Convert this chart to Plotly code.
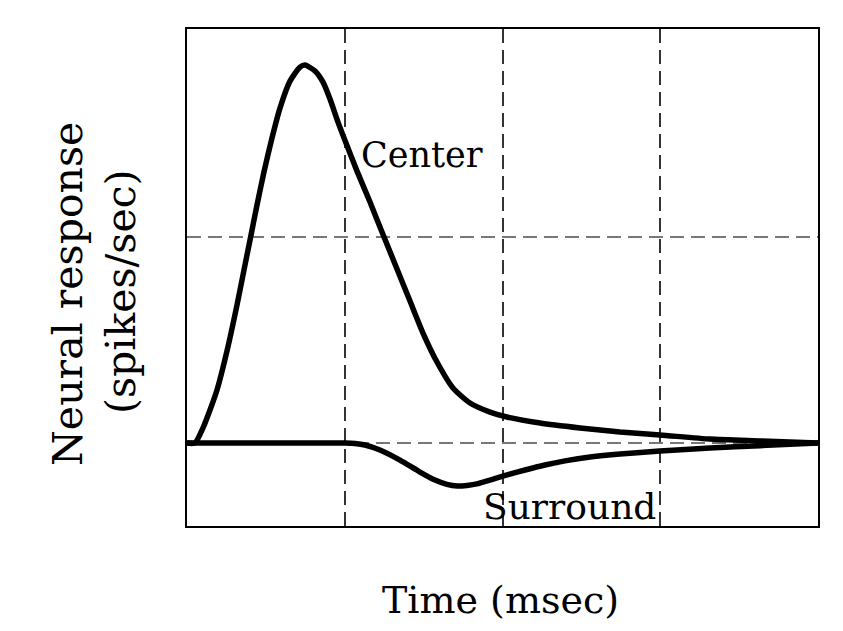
import plotly.graph_objects as go

# Center response (time in arbitrary units 0..4, response in arbitrary units)
center_t = [0.0, 0.0507, 0.1014, 0.1458, 0.1902, 0.2536, 0.3170, 0.3613, 0.3994, 0.4437,
            0.4881, 0.5388, 0.5895, 0.6529, 0.7163, 0.7480, 0.8114, 0.8621, 0.9065, 0.9572,
            1.0079, 1.0777, 1.1601, 1.2361, 1.3312, 1.4136, 1.4960, 1.5848, 1.6862, 1.7940,
            1.9208, 2.0285, 2.2377, 2.4913, 2.7448, 2.9984, 3.3154, 3.6323, 4.0]
center_r = [0.0, 0.0, 0.073, 0.160, 0.257, 0.447, 0.670, 0.840, 0.985, 1.155,
            1.316, 1.481, 1.626, 1.757, 1.825, 1.835, 1.806, 1.752, 1.670, 1.558,
            1.456, 1.320, 1.170, 1.024, 0.845, 0.689, 0.534, 0.393, 0.267, 0.194,
            0.150, 0.126, 0.097, 0.073, 0.053, 0.039, 0.019, 0.010, 0.0]

surround_t = [0.0, 0.5, 1.0016, 1.065, 1.128, 1.223, 1.350, 1.477, 1.572, 1.648, 1.712,
              1.775, 1.845, 1.921, 2.029, 2.143, 2.269, 2.396, 2.555, 2.745, 2.998,
              3.315, 3.632, 4.0]
surround_r = [0.0, 0.0, 0.0, -0.0024, -0.0097, -0.034, -0.083, -0.141, -0.180, -0.201,
              -0.209, -0.206, -0.197, -0.180, -0.155, -0.131, -0.107, -0.087, -0.068,
              -0.053, -0.039, -0.024, -0.013, 0.0]

x_grid = [1, 2, 3]
y_grid = [0, 1]

FONT = "DejaVu Serif"

# plot area in page pixels (reference): left 187, right 818, top 29, bottom 526
PL, PR, PT, PB = 187, 818, 29, 526
PW, PH = PR - PL, PB - PT


def px(x):
    return (x - PL) / PW


def py(y):
    return (PB - y) / PH


fig = go.Figure()
fig.add_trace(go.Scatter(x=center_t, y=center_r, mode="lines",
                         line=dict(color="black", width=5.5, shape="spline", smoothing=0.6),
                         showlegend=False, hoverinfo="skip"))
fig.add_trace(go.Scatter(x=surround_t, y=surround_r, mode="lines",
                         line=dict(color="black", width=5.5, shape="spline", smoothing=0.6),
                         showlegend=False, hoverinfo="skip"))

fig.add_annotation(x=1.09, y=1.40, xref="x", yref="y", text="Center", showarrow=False,
                   xanchor="left", yanchor="middle", font=dict(family=FONT, size=35, color="black"))
fig.add_annotation(x=1.864, y=-0.306, xref="x", yref="y", text="Surround", showarrow=False,
                   xanchor="left", yanchor="middle", font=dict(family=FONT, size=36, color="black"))

fig.add_annotation(x=px(500), y=py(600), xref="paper", yref="paper",
                   text="Time (msec)", showarrow=False, xanchor="center", yanchor="middle",
                   borderpad=0, font=dict(family=FONT, size=38, color="black"))
fig.add_annotation(x=px(68), y=py(294), xref="paper", yref="paper",
                   text="Neural response", showarrow=False, textangle=-90,
                   xanchor="center", yanchor="middle",
                   font=dict(family=FONT, size=41, color="black"))
fig.add_annotation(x=px(121), y=py(292), xref="paper", yref="paper",
                   text="(spikes/sec)", showarrow=False, textangle=-90,
                   xanchor="center", yanchor="middle",
                   font=dict(family=FONT, size=41, color="black"))

# page has an 8px body margin; size the figure so it fits the 843x631 window
W, H = 827, 615
fig.update_layout(
    width=W, height=H,
    margin=dict(l=PL - 8, r=W - (PR - 8), t=PT - 8, b=H - (PB - 8)),
    paper_bgcolor="white", plot_bgcolor="white",
    xaxis=dict(range=[0, 4], tickvals=x_grid, showticklabels=False, ticks="",
               showgrid=True, gridcolor="#333333", gridwidth=1.5, griddash="14px,7px",
               zeroline=False, showline=True, linecolor="black", linewidth=2, mirror=True),
    yaxis=dict(range=[-0.403, 2.01], tickvals=y_grid, showticklabels=False, ticks="",
               showgrid=True, gridcolor="#777777", gridwidth=1.5, griddash="14px,7px",
               zeroline=False, showline=True, linecolor="black", linewidth=2, mirror=True),
)

fig.write_html("out.html")
